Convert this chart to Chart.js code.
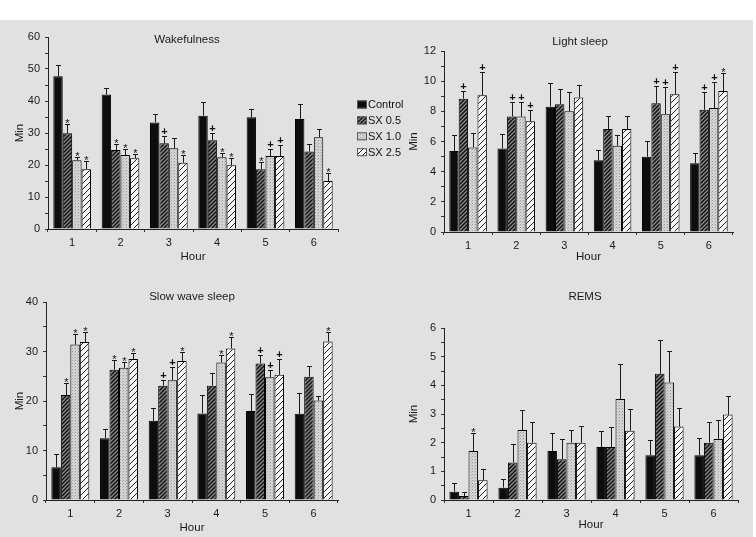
<!DOCTYPE html>
<html>
<head>
<meta charset="utf-8">
<script src="https://cdn.jsdelivr.net/npm/chart.js@4.4.1/dist/chart.umd.min.js"></script>
<style>
body { margin: 0; background: #fff; width: 756px; height: 537px; position: relative; overflow: hidden; }
#bg { position: absolute; left: 0; top: 20px; width: 753px; height: 517px; background: #e1e1e1; }
canvas { position: absolute; }
</style>
</head>
<body>
<div id="bg"></div>
<canvas id="wakeChart" width="430" height="250" style="left:0;top:20px"></canvas>
<canvas id="lightChart" width="345" height="250" style="left:400px;top:20px"></canvas>
<canvas id="swsChart" width="345" height="267" style="left:0;top:270px"></canvas>
<canvas id="remsChart" width="345" height="267" style="left:400px;top:270px"></canvas>
<script>
var hours = ['1', '2', '3', '4', '5', '6']
var groups = ['Control', 'SX 0.5', 'SX 1.0', 'SX 2.5']

// minutes per hour, one row per group (Control, SX 0.5, SX 1.0, SX 2.5)
var wakeMeans = [
	[47.7, 42.0, 33.3, 35.4, 34.9, 34.4],
	[29.9, 24.7, 26.8, 27.7, 18.7, 24.2],
	[21.5, 23.1, 25.2, 22.4, 22.8, 28.7],
	[18.7, 22.1, 20.7, 19.9, 22.8, 15.0]
]
var wakeSem = [
	[3.7, 2.1, 2.6, 4.4, 2.7, 4.6],
	[2.8, 1.9, 2.3, 2.2, 2.1, 2.3],
	[1.0, 1.8, 3.3, 1.2, 2.2, 2.5],
	[2.6, 1.2, 2.4, 2.4, 3.5, 2.4]
]
var wakeMarks = [
	['', '', '', '', '', ''],
	['*', '*', '+', '+', '*', ''],
	['*', '*', '', '*', '+', ''],
	['*', '*', '*', '*', '+', '*']
]

var lightMeans = [
	[5.37, 5.53, 8.31, 4.75, 4.99, 4.55],
	[8.84, 7.65, 8.47, 6.83, 8.53, 8.11],
	[5.61, 7.65, 8.00, 5.72, 7.80, 8.22],
	[9.06, 7.34, 8.91, 6.83, 9.13, 9.35]
]
var lightSem = [
	[1.06, 0.95, 1.55, 0.69, 1.06, 0.71],
	[0.51, 0.99, 0.99, 0.84, 1.17, 1.15],
	[0.93, 0.99, 1.30, 0.71, 1.79, 1.71],
	[1.57, 0.75, 0.82, 0.86, 1.46, 1.17]
]
var lightMarks = [
	['', '', '', '', '', ''],
	['+', '+', '', '', '+', '+'],
	['', '+', '', '', '+', '+'],
	['+', '+', '', '', '+', '*']
]

var swsMeans = [
	[6.6, 12.5, 16.0, 17.5, 18.0, 17.4],
	[21.2, 26.3, 23.1, 23.1, 27.6, 24.9],
	[31.4, 26.7, 24.2, 27.8, 24.8, 20.1],
	[31.9, 28.5, 28.1, 30.6, 25.3, 32.0]
]
var swsSem = [
	[2.7, 1.8, 2.5, 3.7, 3.5, 4.3],
	[2.5, 2.0, 1.1, 2.5, 1.7, 2.2],
	[2.1, 1.2, 2.7, 1.5, 1.5, 1.0],
	[2.0, 1.1, 1.9, 2.3, 3.2, 2.0]
]
var swsMarks = [
	['', '', '', '', '', ''],
	['*', '*', '+', '', '+', ''],
	['*', '*', '+', '*', '+', ''],
	['*', '*', '*', '*', '+', '*']
]

var remsMeans = [
	[0.29, 0.43, 1.71, 1.85, 1.56, 1.56],
	[0.14, 1.31, 1.42, 1.85, 4.40, 2.00],
	[1.71, 2.44, 2.00, 3.52, 4.10, 2.13],
	[0.69, 2.00, 2.00, 2.42, 2.56, 2.98]
]
var remsSem = [
	[0.29, 0.30, 0.62, 0.55, 0.52, 0.59],
	[0.13, 0.63, 0.70, 0.69, 1.17, 0.73],
	[0.62, 0.70, 0.44, 1.21, 1.11, 0.66],
	[0.38, 0.71, 0.59, 0.74, 0.66, 0.64]
]
var remsMarks = [
	['', '', '', '', '', ''],
	['', '', '', '', '', ''],
	['*', '', '', '', '', ''],
	['', '', '', '', '', '']
]

var FONT = '"Liberation Sans", Arial, sans-serif'

function makePattern(kind) {
	var c = document.createElement('canvas')
	var ctx = c.getContext('2d')
	if (kind === 'dense') {
		c.width = 4; c.height = 4
		ctx.fillStyle = '#8a8a8a'
		ctx.fillRect(0, 0, 4, 4)
		ctx.strokeStyle = '#111'
		ctx.lineWidth = 1.5
		ctx.beginPath()
		ctx.moveTo(0, 4); ctx.lineTo(4, 0)
		ctx.moveTo(-1, 1); ctx.lineTo(1, -1)
		ctx.moveTo(3, 5); ctx.lineTo(5, 3)
		ctx.stroke()
	} else if (kind === 'dots') {
		c.width = 3; c.height = 3
		ctx.fillStyle = '#d4d4d4'
		ctx.fillRect(0, 0, 3, 3)
		ctx.fillStyle = '#9c9c9c'
		ctx.fillRect(0, 0, 1, 1)
		ctx.fillStyle = '#b8b8b8'
		ctx.fillRect(2, 1, 1, 1)
	} else {
		c.width = 6; c.height = 6
		ctx.fillStyle = '#f6f6f6'
		ctx.fillRect(0, 0, 6, 6)
		ctx.strokeStyle = '#222'
		ctx.lineWidth = 1
		ctx.beginPath()
		ctx.moveTo(0, 6); ctx.lineTo(6, 0)
		ctx.moveTo(-1, 1); ctx.lineTo(1, -1)
		ctx.moveTo(5, 7); ctx.lineTo(7, 5)
		ctx.stroke()
	}
	return ctx.createPattern(c, 'repeat')
}

var fills = ['#0d0d0d', makePattern('dense'), makePattern('dots'), makePattern('sparse')]

// up-only error bars with the significance sign above them
var errorBars = {
	id: 'errorBars',
	afterDatasetsDraw: function (chart) {
		var ctx = chart.ctx
		var y = chart.scales.y
		ctx.save()
		chart.data.datasets.forEach(function (ds, i) {
			chart.getDatasetMeta(i).data.forEach(function (bar, j) {
				var top = Math.round(y.getPixelForValue(ds.data[j] + ds.sem[j])) + 0.5
				var x = Math.round(bar.x) + 0.5
				ctx.strokeStyle = '#1a1a1a'
				ctx.lineWidth = 1
				ctx.beginPath()
				ctx.moveTo(x, bar.y)
				ctx.lineTo(x, top)
				ctx.moveTo(x - 2.5, top)
				ctx.lineTo(x + 2.5, top)
				ctx.stroke()
				var m = ds.marks[j]
				if (m) {
					ctx.fillStyle = '#111'
					ctx.textAlign = 'center'
					ctx.textBaseline = 'alphabetic'
					if (m === '*') {
						ctx.font = '11px ' + FONT
						ctx.fillText(m, x, top + 2)
					} else {
						ctx.font = 'bold 11px ' + FONT
						ctx.fillText(m, x, top - 1.5)
					}
				}
			})
		})
		ctx.restore()
	}
}

function panelTitle(text, x, y) {
	return {
		id: 'panelTitle',
		afterDraw: function (chart) {
			var ctx = chart.ctx
			ctx.save()
			ctx.font = '11.5px ' + FONT
			ctx.fillStyle = '#1a1a1a'
			ctx.textAlign = 'center'
			ctx.textBaseline = 'middle'
			ctx.fillText(text, x, y)
			ctx.restore()
		}
	}
}

var sideLegend = {
	id: 'sideLegend',
	afterDraw: function (chart) {
		var ctx = chart.ctx
		ctx.save()
		ctx.font = '11px ' + FONT
		ctx.textBaseline = 'middle'
		groups.forEach(function (name, i) {
			var cy = 84.5 + i * 15.9
			ctx.fillStyle = fills[i]
			ctx.fillRect(357, cy - 4, 10, 8)
			ctx.strokeStyle = '#555'
			ctx.lineWidth = 1
			ctx.strokeRect(357.5, cy - 3.5, 9, 7)
			ctx.fillStyle = '#111'
			ctx.fillText(name, 368, cy + 0.5)
		})
		ctx.restore()
	}
}

function buildChart(id, means, sem, marks, cfg) {
	var datasets = groups.map(function (name, i) {
		return {
			label: name,
			data: means[i],
			sem: sem[i],
			marks: marks[i],
			backgroundColor: fills[i],
			borderColor: '#000',
			borderWidth: 1,
			categoryPercentage: 0.78,
			barPercentage: 1
		}
	})
	var plugins = [errorBars, panelTitle(cfg.title, cfg.titleX, cfg.titleY)]
	if (cfg.legend) plugins.push(sideLegend)

	return new Chart(id, {
		type: 'bar',
		data: { labels: hours, datasets: datasets },
		options: {
			responsive: false,
			animation: false,
			layout: { padding: { top: cfg.padTop, right: cfg.padRight, bottom: 0, left: 0 } },
			plugins: { legend: { display: false }, tooltip: { enabled: false } },
			scales: {
				x: {
					grid: { display: true, drawOnChartArea: false, tickLength: 3, color: '#333' },
					border: { display: true, color: '#222' },
					ticks: { color: '#1a1a1a', padding: 4, font: { family: FONT, size: 11 } },
					title: { display: true, text: 'Hour', color: '#1a1a1a', font: { family: FONT, size: 11.5 }, padding: { top: 0, bottom: cfg.hourPad } },
					afterFit: function (s) { s.height = cfg.xHeight }
				},
				y: {
					min: 0,
					max: cfg.max,
					grid: { display: true, drawOnChartArea: false, tickLength: 3, color: '#333' },
					border: { display: true, color: '#222' },
					ticks: {
						stepSize: cfg.minor,
						autoSkip: false,
						color: '#1a1a1a',
						padding: 5,
						font: { family: FONT, size: 11 },
						callback: function (v) { return Math.abs(v / cfg.major - Math.round(v / cfg.major)) < 1e-6 ? v : '' }
					},
					title: { display: true, text: 'Min', color: '#1a1a1a', font: { family: FONT, size: 11.5 }, padding: { top: cfg.minPad, bottom: 0 } },
					afterFit: function (s) { s.width = cfg.yWidth }
				}
			}
		},
		plugins: plugins
	})
}

buildChart('wakeChart', wakeMeans, wakeSem, wakeMarks, {
	title: 'Wakefulness', titleX: 187, titleY: 20, legend: true,
	max: 60, major: 10, minor: 5,
	padTop: 17, padRight: 92, xHeight: 41, yWidth: 48, hourPad: 6, minPad: 13
})
buildChart('lightChart', lightMeans, lightSem, lightMarks, {
	title: 'Light sleep', titleX: 180, titleY: 22,
	max: 12, major: 2, minor: 1,
	padTop: 31, padRight: 12, xHeight: 38, yWidth: 44, hourPad: 6.5, minPad: 6.5
})
buildChart('swsChart', swsMeans, swsSem, swsMarks, {
	title: 'Slow wave sleep', titleX: 192, titleY: 27,
	max: 40, major: 10, minor: 5,
	padTop: 32, padRight: 7, xHeight: 37, yWidth: 46, hourPad: 2.5, minPad: 13
})
buildChart('remsChart', remsMeans, remsSem, remsMarks, {
	title: 'REMS', titleX: 185, titleY: 27,
	max: 6, major: 1, minor: 0.5,
	padTop: 58, padRight: 7, xHeight: 37, yWidth: 44, hourPad: 5.5, minPad: 6.5
})
</script>
</body>
</html>
